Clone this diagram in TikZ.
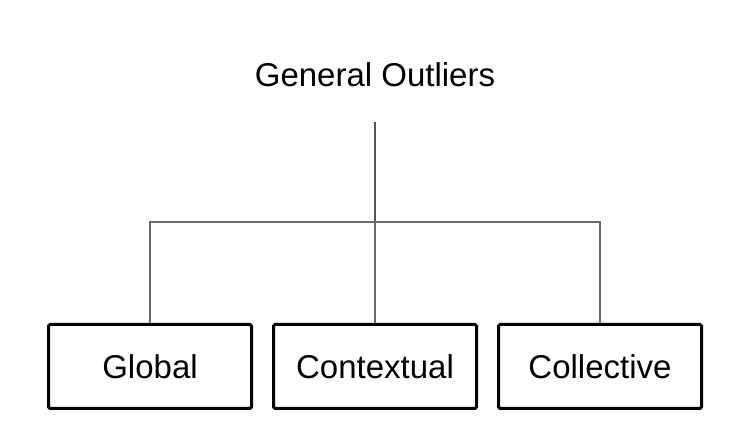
\documentclass[tikz,border=0pt]{standalone}
\usepackage{fontspec}
\setmainfont{Liberation Sans}
\usepackage{xcolor}
\usepackage{tikz}
\usetikzlibrary{positioning}

\definecolor{linkgray}{HTML}{6A6A6A}
\definecolor{stemgray}{HTML}{555555}

\begin{document}
\begin{tikzpicture}[
    x=1pt, y=-1pt,
    node distance=19pt,
    title/.style={inner sep=0pt, anchor=base, font=\fontsize{33}{40}\selectfont},
    leaf/.style={rectangle, draw=black, line width=3pt, rounded corners=1.5pt, minimum width=203pt, minimum height=84pt, align=center, font=\fontsize{33}{40}\selectfont},
    link/.style={draw=linkgray, line width=2pt},
    stem/.style={draw=stemgray, line width=2.5pt}
]
    \useasboundingbox (0,0) rectangle (740,438);

    % Root label
    \node (root) [title] at (375,87) {General Outliers};

    % Row of outlier types
    \node (contextual) [leaf] at (375,366.5) {Contextual};
    \node (global) [leaf, left=of contextual] {Global};
    \node (collective) [leaf, right=of contextual] {Collective};

    % Branch point
    \coordinate (hub) at (375,222);

    % Connecting lines
    \draw [stem, shorten <=34pt] (root) -- (hub);
    \draw [link] (hub) -| (global);
    \draw [link] (hub) -- (contextual);
    \draw [link] (hub) -| (collective);

\end{tikzpicture}
\end{document}
